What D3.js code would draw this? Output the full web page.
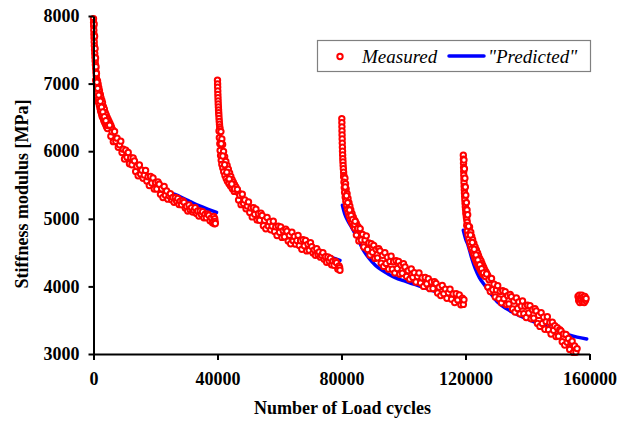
<!DOCTYPE html>
<html>
<head>
<meta charset="utf-8">
<script src="https://cdn.jsdelivr.net/npm/d3@7/dist/d3.min.js"></script>
<style>
  html, body { margin: 0; padding: 0; background: #fff; }
  svg { display: block; }
  text { font-family: "Liberation Serif", "Times New Roman", serif; }
</style>
</head>
<body>
<svg id="chart" width="619" height="421"></svg>
<script>
// Axis ticks
const xTicks = [0, 40000, 80000, 120000, 160000];
const yTicks = [3000, 4000, 5000, 6000, 7000, 8000];

// Measured stiffness modulus [cycles, MPa] for each loading block
const measuredBlock1 = [
  [0,7960],[30,7905],[60,7850],[100,7790],[140,7730],[180,7675],[230,7615],[280,7560],[340,7500],[400,7445],
  [470,7390],[540,7335],[620,7280],[700,7225],[790,7170],[880,7120],[980,7070],
  [200,7880],[350,7700],[500,7520],[650,7380],[800,7250],[950,7150],
  [700,7050],[1300,7040],[900,7000],[1500,6990],[1000,6960],[1700,6940],[1150,6900],[1900,6895],[1250,6860],[2200,6840],
  [1200,6800],[2400,6790],[1500,6760],[2700,6750],[1600,6725],[2900,6715],[1900,6680],[3200,6660],[2100,6635],[3500,6620],
  [2300,6590],[3800,6570],[2600,6550],[4100,6535],[2800,6515],[4400,6500],[3100,6490],[4700,6470],[3300,6455],[5000,6440],
  [3600,6425],[5300,6410],[3900,6395],[5600,6380],[4200,6360],[5800,6350],[4500,6335],[6100,6320],
  [1100,7020],[1350,6930],[1700,6830],[2200,6740],[2600,6650],[3000,6580],[3500,6510],[4000,6450],[4600,6380],
  [5200,6385],[5600,6221],[6000,6286],[6400,6141],[6800,6292],[7200,6147],[7600,6193],[8000,6058],[8400,6094],[8800,6149],
  [9200,5979],[9600,6030],[10000,5885],[10400,6013],[10800,5912],[11200,5980],[11600,5814],[12000,5902],[12400,5800],[12800,5899],
  [13200,5857],[13600,5701],[14000,5774],[14400,5637],[14800,5796],[15200,5662],[15600,5720],[16000,5599],[16400,5648],[16800,5716],
  [17200,5560],[17600,5623],[18000,5492],[18400,5626],[18800,5529],[19200,5603],[19600,5441],[20000,5535],[20400,5441],[20800,5546],
  [21200,5512],[21600,5362],[22000,5443],[22400,5314],[22800,5479],[23200,5350],[23600,5411],[24000,5291],[24400,5342],[24800,5372],
  [25200,5282],[25600,5317],[26000,5243],[26400,5316],[26800,5262],[27200,5301],[27600,5211],[28000,5262],[28400,5208],[28800,5264],
  [29200,5243],[29600,5159],[30000,5186],[30400,5114],[30800,5205],[31200,5132],[31600,5166],[32000,5099],[32400,5126],[32800,5165],
  [33200,5078],[33600,5115],[34000,5042],[34400,5116],[34800,5064],[35200,5104],[35600,5016],[36000,5068],[36400,5015],[36800,5073],
  [37200,5053],[37600,4971],[38000,5014],[38400,4942],[38800,5033],[39000,4925],[39100,5000],[39200,4960],[39300,4930]
];
const measuredBlock2 = [
  [40000,7050],[40030,6995],[40060,6945],[40090,6890],[40120,6840],[40160,6790],[40200,6745],[40240,6700],[40290,6655],[40340,6610],
  [40390,6570],[40440,6530],[40500,6485],[40570,6440],[40640,6400],[40720,6360],[40800,6330],
  [40500,6300],[41100,6290],[40600,6200],[41400,6180],[40750,6110],[41650,6100],[40850,6010],[41950,5995],[41000,5935],[42300,5920],
  [41200,5865],[42700,5850],[41400,5805],[43100,5790],[41700,5750],[43500,5735],[42000,5695],[43900,5680],[42400,5640],[44300,5625],
  [42800,5595],[44700,5580],[43200,5555],[45100,5540],[43700,5520],[45500,5505],[44200,5485],[45900,5470],[44800,5445],[46300,5430],
  [45400,5405],[46700,5390],
  [41200,6110],[41700,5930],[42300,5800],[43000,5690],[43800,5590],[44600,5515],[45500,5440],
  [46400,5436],[46800,5277],[47200,5348],[47600,5209],[48000,5365],[48400,5226],[48800,5277],[49200,5148],[49600,5189],[50000,5250],
  [50400,5094],[50800,5159],[51200,5028],[51600,5163],[52000,5067],[52400,5141],[52800,4981],[53200,5075],[53600,4979],[54000,5084],
  [54400,5048],[54800,4898],[55200,4979],[55600,4852],[56000,5020],[56400,4893],[56800,4956],[57200,4839],[57600,4892],[58000,4965],
  [58400,4813],[58800,4881],[59200,4754],[59600,4892],[60000,4800],[60400,4880],[60800,4725],[61200,4825],[61600,4735],[62000,4845],
  [62400,4815],[62800,4670],[63200,4755],[63600,4630],[64000,4800],[64400,4675],[64800,4740],[65200,4625],[65600,4680],[66000,4755],
  [66400,4605],[66800,4675],[67200,4550],[67600,4690],[68000,4600],[68400,4680],[68800,4525],[69200,4625],[69600,4535],[70000,4645],
  [70400,4589],[70800,4496],[71200,4541],[71600,4460],[72000,4556],[72400,4475],[72800,4508],[73200,4433],[73600,4460],[74000,4499],
  [74400,4403],[74800,4439],[75200,4358],[75600,4436],[76000,4376],[76400,4418],[76800,4319],[77200,4373],[77600,4313],[78000,4373],
  [78400,4349],[78800,4256],[79200,4301],[79400,4275],[79500,4240]
];
const measuredBlock3 = [
  [80100,6480],[80120,6420],[80140,6360],[80160,6300],[80190,6240],[80220,6180],[80250,6120],[80290,6060],[80330,6000],[80370,5945],
  [80420,5890],[80470,5840],[80530,5790],[80600,5740],[80680,5690],[80760,5640],
  [80700,5620],[81100,5600],[80800,5540],[81300,5520],[80900,5460],[81500,5440],[81000,5390],[81800,5370],[81200,5320],[82100,5300],
  [81400,5260],[82400,5240],[81600,5200],[82700,5185],[81900,5140],[83000,5130],[82200,5090],[83400,5075],[82500,5040],[83800,5025],
  [82900,4990],[84300,4975],[83300,4945],[84800,4930],[83800,4900],[85300,4885],[84300,4860],[85900,4845],
  [81200,5470],[81600,5340],[82000,5240],[82600,5130],[83100,5050],[83600,4990],[84200,4920],
  [84400,4962],[84800,4759],[85200,4856],[85600,4673],[86000,4855],[86400,4688],[86800,4770],[87200,4583],[87600,4685],[88000,4748],
  [88400,4545],[88800,4643],[89200,4465],[89600,4633],[90000,4505],[90400,4607],[90800,4414],[91200,4545],[91600,4422],[92000,4559],
  [92400,4526],[92800,4343],[93200,4459],[93600,4296],[94000,4498],[94400,4340],[94800,4432],[95200,4255],[95600,4370],[96000,4445],
  [96400,4255],[96800,4365],[97200,4200],[97600,4380],[98000,4265],[98400,4370],[98800,4180],[99200,4315],[99600,4195],[100000,4335],
  [100500,4288],[101000,4147],[101500,4233],[102000,4107],[102500,4257],[103000,4135],[103500,4202],[104000,4065],[104500,4147],[105000,4198],
  [105500,4050],[106000,4129],[106500,4000],[107000,4131],[107500,4040],[108000,4114],[108500,3967],[109000,4064],[109500,3969],[110000,4070],
  [110500,4043],[111000,3903],[111500,3989],[112000,3864],[112500,4014],[113000,3893],[113500,3960],[114000,3824],[114500,3906],[115000,3958],
  [115500,3810],[116000,3889],[116500,3760],[117000,3891],[117500,3800],[118000,3874],[118500,3727],[119000,3824],[119300,3734],[119500,3802]
];
const measuredBlock4 = [
  [119300,5940],[119330,5880],[119360,5820],[119390,5760],[119420,5700],[119450,5645],[119490,5590],[119530,5535],[119570,5480],[119620,5430],
  [119670,5380],[119730,5330],[119790,5280],[119860,5230],[119940,5180],[120020,5140],[120110,5095],[120200,5060],[120300,5020],[120420,4985],
  [120550,4950],
  [119500,5870],[119650,5740],[119800,5600],[119950,5470],[120100,5350],[120300,5240],[120500,5130],[120700,5060],
  [120400,4900],[121300,4880],[120600,4820],[121700,4800],[120800,4760],[122000,4740],[121100,4700],[122300,4690],[121400,4650],[122700,4635],
  [121700,4600],[123100,4585],[122000,4555],[123500,4540],[122400,4510],[123900,4495],[122700,4465],[124200,4455],[123000,4425],[124600,4410],
  [123300,4390],[125000,4375],[123600,4355],[125300,4340],[124000,4320],[125600,4305],[124300,4290],[125900,4275],[124700,4260],[126200,4245],
  [125000,4230],[126600,4215],[125400,4200],[126900,4185],[125800,4170],[127200,4160],
  [121000,4890],[121600,4760],[122200,4650],[122800,4550],[123400,4465],[124000,4390],[124600,4320],[125200,4260],[125800,4200],[126400,4145],
  [126800,4183],[127200,3990],[127600,4098],[128000,3925],[128400,4118],[128800,3950],[129200,4033],[129600,3845],[130000,3948],[130400,4011],
  [130800,3816],[131200,3924],[131600,3757],[132000,3936],[132400,3819],[132800,3922],[133200,3730],[133600,3863],[134000,3741],[134400,3880],
  [134800,3848],[135200,3666],[135600,3784],[136000,3622],[136400,3828],[136800,3673],[137200,3769],[137600,3594],[138000,3709],[138400,3785],
  [138800,3595],[139200,3706],[139600,3541],[140000,3722],[140400,3607],[140800,3713],[141200,3522],[141600,3654],[142000,3531],[142400,3669],
  [142800,3636],[143200,3453],[143600,3571],[144000,3408],[144400,3610],[144800,3453],[145200,3545],[145600,3367],[146000,3479],[146400,3552],
  [146800,3359],[147200,3466],[147600,3296],[148000,3472],[148400,3352],[148800,3420],[149200,3258],[149600,3389],[150000,3264],[150400,3360],
  [150800,3340],[151200,3181],[151600,3296],[152000,3132],[152400,3290],[152800,3172],[153200,3230],[153600,3068],[154000,3169],[154400,3190],
  [154800,3024],[155200,3120],[155600,3025],[156000,3080]
];
const measuredBlock5 = [
  [156300,3850],[156500,3790],[156700,3870],[156900,3760],[157100,3830],[157300,3800],[157500,3870],
  [157700,3770],[157900,3840],[158100,3800],[158300,3760],[158500,3850],[158700,3790],[158900,3820]
];

// Model prediction [cycles, MPa] for each loading block
const predictedBlock1 = [
  [300,7400],[1000,7050],[2000,6760],[3000,6580],[5000,6340],[7000,6170],[10000,5970],[13000,5800],[16000,5655],
  [19000,5530],[21000,5470],[23000,5426],[25000,5385],[28000,5325],[31000,5260],[34000,5195],[37000,5140],[39700,5095]
];
const predictedBlock2 = [
  [40300,6500],[40800,6250],[41500,6000],[42500,5780],[44000,5570],[46000,5400],[48000,5265],[50000,5160],[53000,5040],
  [56000,4940],[60000,4820],[64000,4720],[68000,4620],[73000,4500],[76000,4445],[79500,4385]
];
const predictedBlock3 = [
  [80300,5200],[81000,5080],[82000,4975],[83300,4870],[85000,4730],[87000,4540],[89000,4410],[91000,4310],[93000,4240],
  [95000,4185],[97500,4125],[100000,4085],[102200,4050],[104300,4020],[106500,3985],[108600,3950],[111000,3910],[114000,3865],
  [117000,3825],[119500,3790]
];
const predictedBlock4 = [
  [119300,4830],[120000,4710],[120900,4600],[122000,4420],[123100,4270],[124500,4130],[126300,4010],[128300,3885],[130500,3760],
  [133000,3675],[136000,3600],[138700,3540],[141400,3490],[144500,3430],[147800,3375],[150500,3325],[153100,3285],[156000,3250],
  [159100,3222]
];

const measured = [measuredBlock1, measuredBlock2, measuredBlock3, measuredBlock4, measuredBlock5];
const predicted = [predictedBlock1, predictedBlock2, predictedBlock3, predictedBlock4];

const RED = "#ff0000";
const BLUE = "#0000ff";

const svg = d3.select("#chart");
const x = d3.scaleLinear().domain([0, 160000]).range([93.5, 589.5]);
const y = d3.scaleLinear().domain([3000, 8000]).range([354, 16]);

// Prediction lines sit underneath the measured markers
const line = d3.line().x(d => x(d[0])).y(d => y(d[1])).curve(d3.curveMonotoneX);
svg.append("g").selectAll("path").data(predicted).join("path")
  .attr("d", line)
  .attr("fill", "none")
  .attr("stroke", BLUE)
  .attr("stroke-width", 3.5)
  .attr("stroke-linecap", "round");

svg.append("g").selectAll("g").data(measured).join("g")
  .selectAll("circle").data(d => d).join("circle")
  .attr("cx", d => x(d[0]))
  .attr("cy", d => y(d[1]))
  .attr("r", 2.7)
  .attr("fill", "#fff")
  .attr("stroke", RED)
  .attr("stroke-width", 2);

// Axes
const fmt = d3.format("d");
const yAxis = svg.append("g").attr("transform", "translate(93.5,0)")
  .call(d3.axisLeft(y).tickValues(yTicks).tickFormat(fmt).tickSize(5).tickSizeOuter(0).tickPadding(9));
const xAxis = svg.append("g").attr("transform", "translate(0,354)")
  .call(d3.axisBottom(x).tickValues(xTicks).tickFormat(fmt).tickSize(6).tickSizeOuter(0).tickPadding(12));

[yAxis, xAxis].forEach(ax => {
  ax.select(".domain").attr("stroke", "#000").attr("stroke-width", 2);
  ax.selectAll(".tick line").attr("stroke", "#000").attr("stroke-width", 2);
  ax.selectAll(".tick text")
    .attr("fill", "#000")
    .style("font-family", '"Liberation Serif", "Times New Roman", serif')
    .style("font-weight", "bold")
    .style("font-size", "18px");
});

// Axis titles
svg.append("text")
  .attr("transform", "translate(28,194) rotate(-90)")
  .attr("text-anchor", "middle")
  .style("font-weight", "bold")
  .style("font-size", "18px")
  .text("Stiffness modulus [MPa]");

svg.append("text")
  .attr("x", 342.5).attr("y", 414)
  .attr("text-anchor", "middle")
  .style("font-weight", "bold")
  .style("font-size", "18px")
  .text("Number of Load cycles");

// Legend
const legend = svg.append("g");
legend.append("rect")
  .attr("x", 317.5).attr("y", 40.5).attr("width", 273).attr("height", 31)
  .attr("fill", "#fff").attr("stroke", "#808080").attr("stroke-width", 1.2);
legend.append("circle")
  .attr("cx", 340).attr("cy", 56.5).attr("r", 2.7)
  .attr("fill", "#fff").attr("stroke", RED).attr("stroke-width", 2);
legend.append("text")
  .attr("x", 362).attr("y", 63)
  .style("font-style", "italic").style("font-size", "19px")
  .text("Measured");
legend.append("line")
  .attr("x1", 449).attr("x2", 484).attr("y1", 56).attr("y2", 56)
  .attr("stroke", BLUE).attr("stroke-width", 3.5).attr("stroke-linecap", "round");
legend.append("text")
  .attr("x", 488).attr("y", 63)
  .style("font-style", "italic").style("font-size", "19px")
  .text("\"Predicted\"");
</script>
</body>
</html>
